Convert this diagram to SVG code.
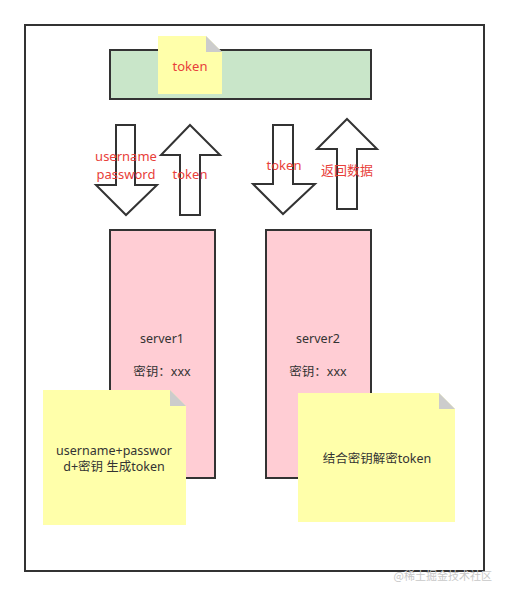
<svg xmlns="http://www.w3.org/2000/svg" width="509" height="596" viewBox="0 0 509 596">
<style>
.box{stroke:#333;stroke-width:2}
.arrow{fill:#fff;stroke:#333;stroke-width:2;stroke-linejoin:miter}
.note{fill:#ffffaa}
.fold{fill:#cccccc}
.red{fill:#e8403a;font-family:"Noto Sans","Noto Sans CJK SC",sans-serif;font-size:13px;text-anchor:middle}
.dark{fill:#333;font-family:"Noto Sans","Noto Sans CJK SC",sans-serif;font-size:12.5px;text-anchor:middle}
</style>
<rect width="509" height="596" fill="#fff"/>
<g id="frame"><rect x="25" y="25" width="459" height="546" fill="#fff" class="box"/></g>
<g id="gateway"><rect x="110" y="50" width="261" height="49" fill="#c9e6c9" class="box"/></g>
<g id="token-note">
<path d="M158 36 H206 L222 52 V94 H158 Z" class="note"/>
<path d="M206 36 L222 52 H206 Z" class="fold"/>
<text x="190" y="71" class="red">token</text>
</g>
<g id="connectors">
<g id="arrow-login">
<path d="M116 125 H135 V185 H157 L126 215 L96 185 H116 Z" class="arrow"/>
<text x="126" y="161" class="red" font-size="12.5">username</text>
<text x="126" y="178.5" class="red" font-size="12.5">password</text>
</g>
<g id="arrow-token-back">
<path d="M190 125 L220 155 H200 V215 H180 V155 H161 Z" class="arrow"/>
<text x="190" y="179" class="red">token</text>
</g>
<g id="arrow-token-send">
<path d="M273 125 H293 V184 H315 L283 214 L253 184 H273 Z" class="arrow"/>
<text x="284" y="170" class="red">token</text>
</g>
<g id="arrow-return">
<path d="M347 119 L377 149 H357 V209 H337 V149 H317 Z" class="arrow"/>
<text x="347" y="175" class="red">返回数据</text>
</g>
</g>
<g id="server1">
<rect x="110" y="230" width="105" height="248" fill="#ffcdd4" class="box"/>
<text x="162" y="343" class="dark">server1</text>
<text x="162" y="376" class="dark">密钥：xxx</text>
</g>
<g id="server2">
<rect x="266" y="230" width="105" height="248" fill="#ffcdd4" class="box"/>
<text x="318" y="343" class="dark">server2</text>
<text x="318" y="376" class="dark">密钥：xxx</text>
</g>
<g id="note1">
<path d="M43 390 H170 L186 406 V525 H43 Z" class="note"/>
<path d="M170 390 L186 406 H170 Z" class="fold"/>
<text x="114" y="455" class="dark">username+passwor</text>
<text x="114" y="471" class="dark">d+密钥 生成token</text>
</g>
<g id="note2">
<path d="M298 393 H439 L455 409 V522 H298 Z" class="note"/>
<path d="M439 393 L455 409 H439 Z" class="fold"/>
<text x="377" y="463" class="dark">结合密钥解密token</text>
</g>
<text x="492" y="580" fill="#c8c8c8" font-family="Noto Sans CJK SC,sans-serif" font-size="11" text-anchor="end">@稀土掘金技术社区</text>
</svg>
